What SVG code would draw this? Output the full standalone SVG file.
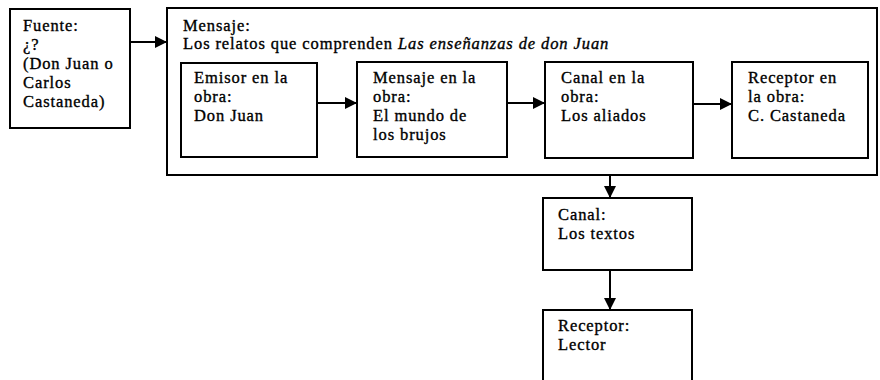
<svg xmlns="http://www.w3.org/2000/svg" width="880" height="380" viewBox="0 0 880 380">
<style>
.box{fill:none;stroke:#000;stroke-width:2}
.t{font-family:"Liberation Serif","Times New Roman",serif;font-size:16.5px;letter-spacing:0.9px;fill:#000;stroke:#000;stroke-width:0.35}
.ln{stroke:#000;stroke-width:2;fill:none}
</style>
<defs>
<marker id="ah" viewBox="0 0 12 12" refX="12" refY="6" markerWidth="12" markerHeight="12" markerUnits="userSpaceOnUse" orient="auto">
<path d="M0,0 L12,6 L0,12 Z" fill="#000"/>
</marker>
</defs>
<rect width="880" height="380" fill="#fff"/>
<g id="fuente">
<rect class="box" x="10" y="9" width="120" height="119"/>
<text class="t" x="23" y="31">Fuente:</text>
<text class="t" x="23" y="50">¿?</text>
<text class="t" x="23" y="69">(Don Juan o</text>
<text class="t" x="23" y="88">Carlos</text>
<text class="t" x="23" y="107">Castaneda)</text>
</g>
<g id="mensaje">
<rect class="box" x="167" y="8" width="710" height="167"/>
<text class="t" x="183" y="31">Mensaje:</text>
<text class="t" x="183" y="49">Los relatos que comprenden <tspan font-style="italic">Las enseñanzas de don Juan</tspan></text>
</g>
<g id="emisor-obra">
<rect class="box" x="181" y="63" width="136" height="94"/>
<text class="t" x="194" y="83">Emisor en la</text>
<text class="t" x="194" y="102">obra:</text>
<text class="t" x="194" y="121">Don Juan</text>
</g>
<g id="mensaje-obra">
<rect class="box" x="357" y="62" width="150" height="95"/>
<text class="t" x="373" y="83">Mensaje en la</text>
<text class="t" x="373" y="102">obra:</text>
<text class="t" x="373" y="121">El mundo de</text>
<text class="t" x="373" y="140">los brujos</text>
</g>
<g id="canal-obra">
<rect class="box" x="545" y="62" width="148" height="96"/>
<text class="t" x="561" y="83">Canal en la</text>
<text class="t" x="561" y="102">obra:</text>
<text class="t" x="561" y="121">Los aliados</text>
</g>
<g id="receptor-obra">
<rect class="box" x="732" y="62" width="136" height="96"/>
<text class="t" x="748" y="83">Receptor en</text>
<text class="t" x="748" y="102">la obra:</text>
<text class="t" x="748" y="121">C. Castaneda</text>
</g>
<g id="canal">
<rect class="box" x="543" y="198" width="149" height="72"/>
<text class="t" x="558" y="220">Canal:</text>
<text class="t" x="558" y="239">Los textos</text>
</g>
<g id="receptor">
<rect class="box" x="543" y="310" width="149" height="90"/>
<text class="t" x="558" y="331">Receptor:</text>
<text class="t" x="558" y="350">Lector</text>
</g>
<g id="connectors">
<line class="ln" x1="130" y1="42" x2="167" y2="42" marker-end="url(#ah)"/>
<line class="ln" x1="317" y1="103" x2="357" y2="103" marker-end="url(#ah)"/>
<line class="ln" x1="507" y1="103" x2="545" y2="103" marker-end="url(#ah)"/>
<line class="ln" x1="693" y1="104" x2="732" y2="104" marker-end="url(#ah)"/>
<line class="ln" x1="610" y1="175" x2="610" y2="198" marker-end="url(#ah)"/>
<line class="ln" x1="610" y1="270" x2="610" y2="310" marker-end="url(#ah)"/>
</g>
</svg>
